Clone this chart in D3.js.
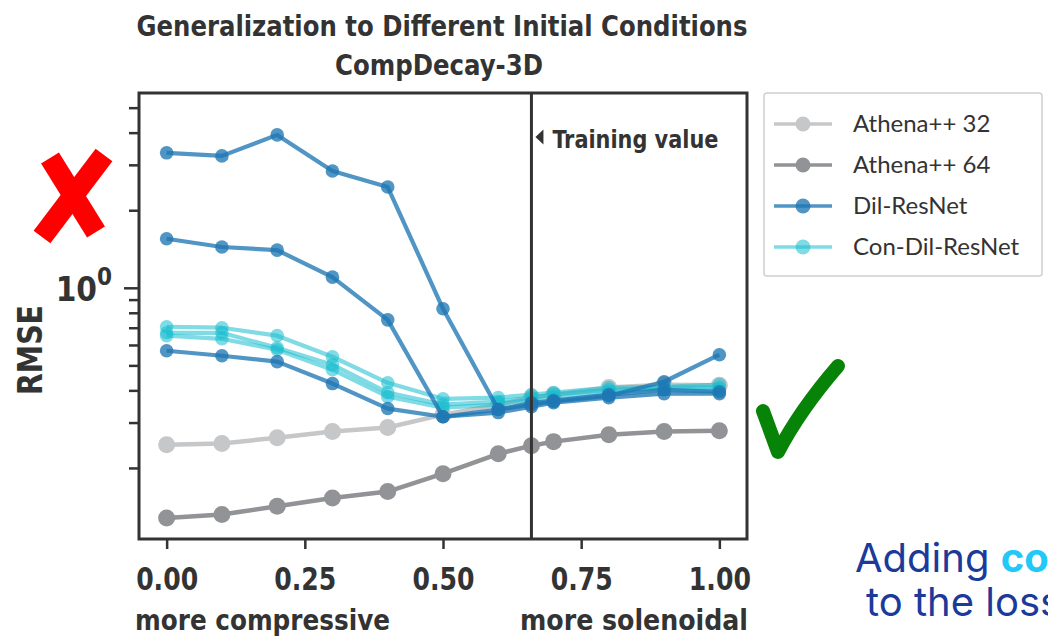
<!DOCTYPE html>
<html>
<head>
<meta charset="utf-8">
<script src="https://cdn.jsdelivr.net/npm/d3@7"></script>
<style>
  html, body { margin: 0; padding: 0; background: #fff; }
  svg { display: block; }
  .cond { font-family: "DejaVu Sans Condensed", "DejaVu Sans", sans-serif; font-stretch: condensed; font-weight: bold; fill: #333; }
</style>
</head>
<body>
<svg id="chart" width="1048" height="638"></svg>
<script>
// Mixing parameter (0 = fully compressive, 1 = fully solenoidal)
const mixing = [0, 0.1, 0.2, 0.3, 0.4, 0.5, 0.6, 0.66, 0.7, 0.8, 0.9, 1.0];
const trainingValue = 0.66;

// RMSE per model
const athena32 = [0.246, 0.249, 0.262, 0.277, 0.287, 0.322, 0.352, 0.375, 0.385, 0.410, 0.421, 0.419];
const athena64 = [0.128, 0.132, 0.142, 0.153, 0.162, 0.190, 0.227, 0.244, 0.253, 0.269, 0.277, 0.279];

const dilResNetRuns = [
  [3.34, 3.25, 3.92, 2.84, 2.46, 0.829, 0.337, 0.352, 0.362, 0.381, 0.432, 0.550],
  [1.55, 1.44, 1.40, 1.10, 0.751, 0.316, 0.337, 0.358, 0.365, 0.385, 0.402, 0.395],
  [0.570, 0.545, 0.517, 0.425, 0.340, 0.316, 0.328, 0.346, 0.358, 0.375, 0.388, 0.388]
];
const conDilResNetRuns = [
  [0.706, 0.700, 0.652, 0.540, 0.428, 0.371, 0.375, 0.385, 0.392, 0.410, 0.413, 0.421],
  [0.669, 0.669, 0.585, 0.503, 0.392, 0.352, 0.362, 0.375, 0.385, 0.402, 0.410, 0.410],
  [0.652, 0.634, 0.575, 0.481, 0.378, 0.343, 0.352, 0.368, 0.375, 0.395, 0.402, 0.402]
];

const xTicks = [0, 0.25, 0.5, 0.75, 1.0];
const yMajorTicks = [1];
const yMinorTicks = [0.2, 0.3, 0.4, 0.5, 0.6, 0.7, 0.8, 0.9, 2, 3, 4, 5];

const legendLabels = ["Athena++ 32", "Athena++ 64", "Dil-ResNet", "Con-Dil-ResNet"];

const styles = {
  athena32: { color: "#c6c7c9", opacity: 1, width: 4.5, r: 8.5 },
  athena64: { color: "#929396", opacity: 1, width: 4.5, r: 8.5 },
  dil:      { color: "#1f77b4", opacity: 0.78, width: 4.2, r: 6.8 },
  con:      { color: "#17becf", opacity: 0.55, width: 4.2, r: 6.8 }
};

const svg = d3.select("#chart");
const plot = { left: 139, right: 747, top: 93, bottom: 539 };

const x = d3.scaleLinear().domain([-0.05, 1.05]).range([plot.left, plot.right]);
const y = d3.scaleLog().domain([0.106, 5.7]).range([plot.bottom, plot.top]);

// Title
svg.append("text").attr("class", "cond")
  .attr("x", 442).attr("y", 36).attr("text-anchor", "middle")
  .attr("font-size", 28).attr("textLength", 611).attr("lengthAdjust", "spacingAndGlyphs")
  .text("Generalization to Different Initial Conditions");
svg.append("text").attr("class", "cond")
  .attr("x", 439).attr("y", 75).attr("text-anchor", "middle")
  .attr("font-size", 28).attr("textLength", 208).attr("lengthAdjust", "spacingAndGlyphs")
  .text("CompDecay-3D");

// Series
function drawSeries(values, st) {
  const pts = mixing.map((m, i) => [m, values[i]]);
  const line = d3.line().x(d => x(d[0])).y(d => y(d[1]));
  svg.append("path").datum(pts)
    .attr("d", line).attr("fill", "none")
    .attr("stroke", st.color).attr("stroke-width", st.width)
    .attr("stroke-opacity", st.opacity).attr("stroke-linejoin", "round");
  svg.append("g").selectAll("circle").data(pts).join("circle")
    .attr("cx", d => x(d[0])).attr("cy", d => y(d[1])).attr("r", st.r)
    .attr("fill", st.color).attr("fill-opacity", st.opacity);
}
drawSeries(athena32, styles.athena32);
drawSeries(athena64, styles.athena64);
conDilResNetRuns.forEach(v => drawSeries(v, styles.con));
dilResNetRuns.forEach(v => drawSeries(v, styles.dil));

// Training value marker
const tx = x(trainingValue);
svg.append("line")
  .attr("x1", tx).attr("x2", tx)
  .attr("y1", plot.top).attr("y2", plot.bottom)
  .attr("stroke", "#333").attr("stroke-width", 3);
svg.append("path")
  .attr("d", `M${tx + 4},137 L${tx + 12},129.5 L${tx + 12},144.5 Z`)
  .attr("fill", "#333");
svg.append("text").attr("class", "cond")
  .attr("x", tx + 21).attr("y", 148).attr("font-size", 25)
  .attr("textLength", 166).attr("lengthAdjust", "spacingAndGlyphs")
  .text("Training value");

// Frame
svg.append("rect")
  .attr("x", plot.left).attr("y", plot.top)
  .attr("width", plot.right - plot.left).attr("height", plot.bottom - plot.top)
  .attr("fill", "none").attr("stroke", "#333").attr("stroke-width", 3);

// Axes
const xAxis = svg.append("g").attr("transform", `translate(0,${plot.bottom + 1})`)
  .call(d3.axisBottom(x).tickValues(xTicks).tickFormat(d3.format(".2f")).tickSize(9).tickPadding(18));
const yMinor = svg.append("g").attr("transform", `translate(${plot.left - 1},0)`)
  .call(d3.axisLeft(y).tickValues(yMinorTicks).tickFormat("").tickSize(9));
const yMajor = svg.append("g").attr("transform", `translate(${plot.left - 1},0)`)
  .call(d3.axisLeft(y).tickValues(yMajorTicks).tickFormat("").tickSize(14));
[xAxis, yMinor, yMajor].forEach(g => {
  g.select(".domain").remove();
  g.selectAll(".tick line").attr("stroke", "#333").attr("stroke-width", 2.5);
});
xAxis.selectAll(".tick text").attr("class", "cond").attr("font-size", 32).attr("fill", "#333")
  .attr("textLength", 62).attr("lengthAdjust", "spacingAndGlyphs");

// 10^0 label on the major y tick
yMajor.selectAll(".tick").each(function (d) {
  const t = d3.select(this).append("text").attr("class", "cond")
    .attr("x", -26).attr("y", 13).attr("text-anchor", "end").attr("font-size", 33);
  t.append("tspan").text("10");
  t.append("tspan").attr("dy", -16).attr("font-size", 24).text(Math.round(Math.log10(d)));
});

// Axis labels
svg.append("text").attr("class", "cond")
  .attr("transform", "translate(42,350) rotate(-90)")
  .attr("text-anchor", "middle").attr("font-size", 34)
  .attr("textLength", 90).attr("lengthAdjust", "spacingAndGlyphs").text("RMSE");
svg.append("text").attr("class", "cond")
  .attr("x", 135).attr("y", 630).attr("font-size", 28)
  .attr("textLength", 255).attr("lengthAdjust", "spacingAndGlyphs").text("more compressive");
svg.append("text").attr("class", "cond")
  .attr("x", 748).attr("y", 630).attr("text-anchor", "end").attr("font-size", 28)
  .attr("textLength", 228).attr("lengthAdjust", "spacingAndGlyphs").text("more solenoidal");

// Legend
const legend = svg.append("g");
legend.append("rect")
  .attr("x", 764).attr("y", 93).attr("width", 278).attr("height", 183)
  .attr("rx", 3).attr("fill", "#fff").attr("stroke", "#d0d0d0").attr("stroke-width", 1.5);
const legendStyles = [styles.athena32, styles.athena64, styles.dil, styles.con];
legendLabels.forEach((lab, i) => {
  const st = legendStyles[i];
  const ly = 124 + i * 41;
  legend.append("line").attr("x1", 774).attr("x2", 832).attr("y1", ly).attr("y2", ly)
    .attr("stroke", st.color).attr("stroke-opacity", st.opacity).attr("stroke-width", 3.5);
  legend.append("circle").attr("cx", 803).attr("cy", ly).attr("r", 7.5)
    .attr("fill", st.color).attr("fill-opacity", st.opacity);
  legend.append("text").attr("x", 853).attr("y", ly + 8)
    .attr("font-family", "Lato, 'Open Sans', sans-serif").attr("font-size", 24)
    .attr("fill", "#333").text(lab);
});

// Red cross
const cross = svg.append("g").attr("stroke", "#ff0000").attr("stroke-width", 21).attr("stroke-linecap", "butt");
cross.append("line").attr("x1", 50).attr("y1", 158).attr("x2", 96).attr("y2", 232);
cross.append("line").attr("x1", 104).attr("y1", 155).attr("x2", 42).attr("y2", 237);

// Green check
svg.append("path")
  .attr("d", "M763,411 Q770,430 778,452 Q800,410 838,366")
  .attr("fill", "none").attr("stroke", "#078307").attr("stroke-width", 14)
  .attr("stroke-linecap", "round").attr("stroke-linejoin", "round");

// Annotation (runs past the right edge of the page)
const note = svg.append("g").attr("font-family", "Inter, 'Open Sans', sans-serif").attr("font-size", 40);
const line1 = note.append("text").attr("x", 855).attr("y", 572).attr("fill", "#1b3a9a");
line1.append("tspan").text("Adding ");
line1.append("tspan").attr("fill", "#22c8f7").attr("font-weight", "bold").text("constraints");
note.append("text").attr("x", 866).attr("y", 616).attr("fill", "#1b3a9a").text("to the loss function");
</script>
</body>
</html>
